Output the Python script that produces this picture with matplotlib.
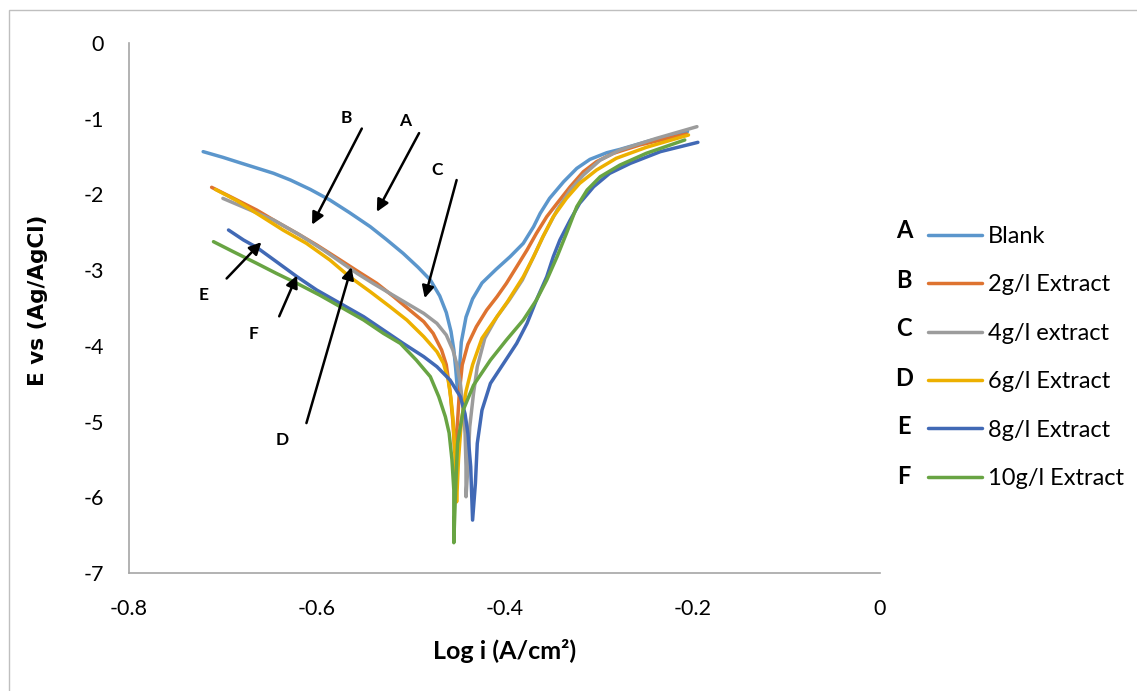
import matplotlib
matplotlib.use("Agg")
import matplotlib.pyplot as plt
from matplotlib.patches import Rectangle

plt.rcParams['font.family'] = ['Lato', 'DejaVu Sans']
plt.rcParams['axes.unicode_minus'] = False

# polarization curves (log i, E)
blank_x = [-0.721, -0.700, -0.682, -0.664, -0.646, -0.628, -0.607, -0.586, -0.565, -0.543, -0.526,
           -0.508, -0.492, -0.479, -0.469, -0.462, -0.457, -0.454, -0.452, -0.450,
           -0.448, -0.446, -0.441, -0.434, -0.424, -0.409, -0.394, -0.380, -0.369, -0.362,
           -0.352, -0.337, -0.323, -0.309, -0.291, -0.277, -0.245, -0.205]
blank_y = [-1.435, -1.510, -1.581, -1.651, -1.721, -1.810, -1.933, -2.074, -2.241, -2.426, -2.593,
           -2.778, -2.963, -3.130, -3.340, -3.560, -3.810, -4.050, -4.300, -4.600,
           -4.300, -3.950, -3.620, -3.380, -3.170, -2.990, -2.822, -2.646, -2.426, -2.250,
           -2.052, -1.832, -1.656, -1.537, -1.449, -1.405, -1.290, -1.170]

b_x = [-0.712, -0.692, -0.664, -0.643, -0.621, -0.600, -0.575, -0.554, -0.536, -0.518, -0.501,
       -0.486, -0.476, -0.467, -0.462, -0.458, -0.455, -0.453,
       -0.450, -0.448, -0.445, -0.439, -0.430, -0.419, -0.408, -0.398, -0.387, -0.376, -0.366,
       -0.355, -0.344, -0.330, -0.316, -0.302, -0.284, -0.256, -0.206]
b_y = [-1.906, -2.030, -2.206, -2.360, -2.514, -2.668, -2.866, -3.034, -3.175, -3.351, -3.527,
       -3.681, -3.835, -4.055, -4.250, -4.600, -5.000, -5.400,
       -5.000, -4.600, -4.250, -3.980, -3.747, -3.527, -3.351, -3.175, -2.955, -2.734, -2.514,
       -2.294, -2.118, -1.898, -1.700, -1.568, -1.457, -1.347, -1.202]

c_x = [-0.700, -0.675, -0.646, -0.618, -0.593, -0.575, -0.557, -0.540, -0.522, -0.504, -0.486,
       -0.472, -0.462, -0.455, -0.451, -0.447, -0.444, -0.442, -0.441, -0.441,
       -0.439, -0.437, -0.433, -0.429, -0.421, -0.408, -0.395, -0.381, -0.369, -0.359,
       -0.344, -0.330, -0.316, -0.298, -0.277, -0.238, -0.195]
c_y = [-2.052, -2.184, -2.338, -2.536, -2.734, -2.888, -3.043, -3.175, -3.307, -3.439, -3.571,
       -3.703, -3.857, -4.055, -4.231, -4.496, -4.848, -5.156, -5.597, -5.993,
       -5.597, -5.068, -4.628, -4.276, -3.900, -3.615, -3.395, -3.131, -2.822, -2.558,
       -2.206, -1.942, -1.744, -1.546, -1.413, -1.259, -1.105]

d_x = [-0.708, -0.685, -0.664, -0.636, -0.611, -0.586, -0.565, -0.543, -0.522, -0.504, -0.486,
       -0.472, -0.465, -0.460, -0.457, -0.455, -0.453, -0.451,
       -0.449, -0.446, -0.441, -0.434, -0.424, -0.410, -0.397, -0.380, -0.369, -0.359,
       -0.348, -0.334, -0.320, -0.302, -0.281, -0.249, -0.204]
d_y = [-1.933, -2.083, -2.250, -2.470, -2.646, -2.866, -3.087, -3.285, -3.483, -3.659, -3.879,
       -4.077, -4.231, -4.451, -4.700, -4.950, -5.380, -6.060,
       -5.500, -5.000, -4.600, -4.250, -3.900, -3.650, -3.420, -3.087, -2.822, -2.558,
       -2.294, -2.052, -1.854, -1.678, -1.523, -1.378, -1.215]

e_x = [-0.694, -0.678, -0.664, -0.643, -0.621, -0.600, -0.575, -0.550, -0.529, -0.508, -0.486,
       -0.472, -0.458, -0.447, -0.442, -0.439, -0.436, -0.434,
       -0.431, -0.429, -0.424, -0.415, -0.401, -0.387, -0.376, -0.366, -0.355, -0.348,
       -0.341, -0.330, -0.320, -0.305, -0.288, -0.266, -0.234, -0.194]
e_y = [-2.470, -2.602, -2.699, -2.888, -3.087, -3.263, -3.439, -3.615, -3.791, -3.967, -4.143,
       -4.275, -4.451, -4.672, -4.900, -5.156, -5.597, -6.301,
       -5.817, -5.288, -4.850, -4.496, -4.232, -3.967, -3.703, -3.395, -3.087, -2.822,
       -2.602, -2.338, -2.118, -1.898, -1.722, -1.590, -1.435, -1.312]

f_x = [-0.710, -0.689, -0.664, -0.643, -0.621, -0.597, -0.575, -0.550, -0.529, -0.511, -0.494,
       -0.479, -0.470, -0.463, -0.459, -0.456, -0.454, -0.454,
       -0.452, -0.450, -0.444, -0.433, -0.415, -0.398, -0.380, -0.366, -0.355, -0.344,
       -0.334, -0.323, -0.312, -0.298, -0.277, -0.249, -0.208]
f_y = [-2.624, -2.756, -2.910, -3.043, -3.175, -3.329, -3.483, -3.659, -3.835, -3.967, -4.187,
       -4.407, -4.672, -4.936, -5.150, -5.500, -5.900, -6.600,
       -5.861, -5.288, -4.848, -4.520, -4.188, -3.923, -3.659, -3.395, -3.131, -2.822,
       -2.514, -2.162, -1.942, -1.766, -1.612, -1.457, -1.281]

labels = ['Blank', '2g/l Extract', '4g/l extract', '6g/l Extract', '8g/l Extract', '10g/l Extract']
letters = ['A', 'B', 'C', 'D', 'E', 'F']
colors = ['#5B96CC', '#DE7330', '#9C9C9C', '#EDB000', '#4169B5', '#68A443']

xs = [blank_x, b_x, c_x, d_x, e_x, f_x]
ys = [blank_y, b_y, c_y, d_y, e_y, f_y]

# arrow annotations: letter, label pos, arrow tail, arrow head
arrows = [
    ('B', (-0.569, -0.99), (-0.552, -1.13), (-0.605, -2.40)),
    ('A', (-0.506, -1.03), (-0.491, -1.19), (-0.536, -2.23)),
    ('C', (-0.472, -1.68), (-0.451, -1.81), (-0.485, -3.37)),
    ('D', (-0.637, -5.24), (-0.611, -5.02), (-0.563, -2.96)),
    ('E', (-0.721, -3.33), (-0.696, -3.11), (-0.659, -2.63)),
    ('F', (-0.667, -3.84), (-0.640, -3.61), (-0.621, -3.07)),
]

fig = plt.figure(figsize=(11.37, 6.91), dpi=100)
ax = fig.add_axes([129/1137, 1 - 573/691, 751/1137, 530/691])

for x, y, c, lab in zip(xs, ys, colors, labels):
    ax.plot(x, y, color=c, lw=2.5, label=lab, solid_joinstyle='round', solid_capstyle='round')

for let, lpos, tail, head in arrows:
    ax.annotate('', xy=head, xytext=tail,
                arrowprops=dict(arrowstyle='-|>', color='black', lw=1.8, mutation_scale=18,
                                shrinkA=0, shrinkB=0))
    ax.text(lpos[0], lpos[1], let, fontsize=12.5, fontweight='bold', ha='center', va='center')

ax.set_xlim(-0.8, 0)
ax.set_ylim(-7, 0)
ax.set_xticks([-0.8, -0.6, -0.4, -0.2, 0])
ax.set_xticklabels(['-0.8', '-0.6', '-0.4', '-0.2', '0'])
ax.set_yticks(range(-7, 1))
ax.tick_params(axis='both', length=0, labelsize=15.5)
ax.tick_params(axis='x', pad=19)
ax.tick_params(axis='y', pad=18)
for s in ['top', 'right']:
    ax.spines[s].set_visible(False)
for s in ['left', 'bottom']:
    ax.spines[s].set_color('#A6A6A6')
    ax.spines[s].set_linewidth(1.2)

fig.text(38/1137, 1 - 300/691, 'E vs (Ag/AgCl)', rotation=90, fontsize=15.5, fontweight='bold',
         family='DejaVu Sans', ha='center', va='center')
fig.text(505/1137, 1 - 651/691, 'Log i (A/cm\u00b2)', fontsize=18, fontweight='bold',
         ha='center', va='center')

leg = ax.legend(loc='upper left', bbox_to_anchor=(928/1137, 1 - 226/691), bbox_transform=fig.transFigure,
                frameon=False, fontsize=17, handlelength=2.29, handletextpad=0.25, labelspacing=1.16,
                borderpad=0, borderaxespad=0)

row_y = [231, 280, 329, 378, 427, 476]
for let, ry in zip(letters, row_y):
    fig.text(904/1137, 1 - ry/691, let, fontsize=17, fontweight='bold', ha='center', va='center')

fig.add_artist(Rectangle((9/1137, 0 - 0.1), 1.2, 1 - 10/691 + 0.1, transform=fig.transFigure,
                         fill=False, edgecolor='#BFBFBF', lw=1.0))

fig.savefig('out.png', dpi=100)
